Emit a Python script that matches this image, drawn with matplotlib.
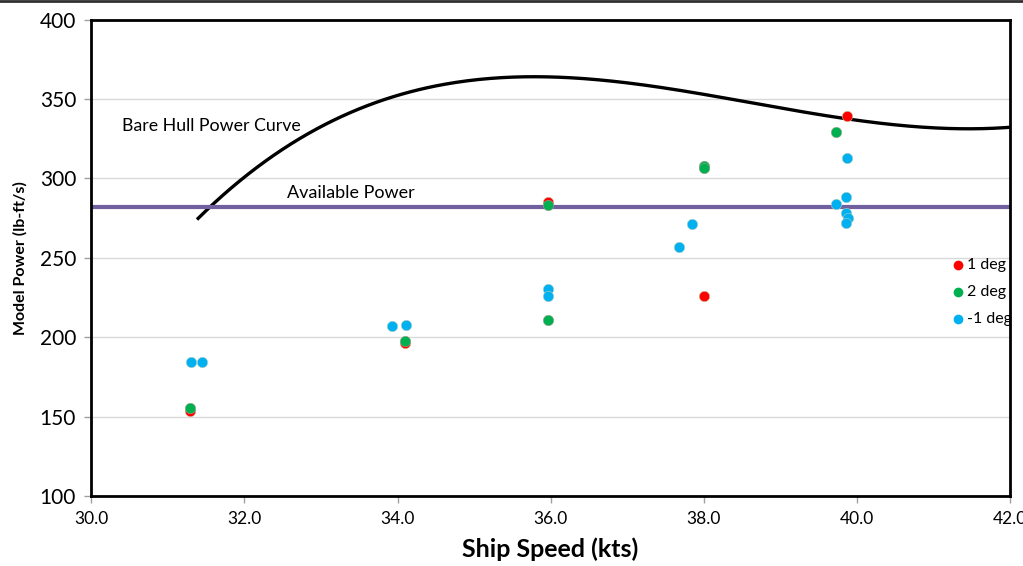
import matplotlib
matplotlib.use("Agg")
import matplotlib.pyplot as plt
from matplotlib.lines import Line2D
import numpy as np

plt.rcParams['font.family'] = ['Lato', 'DejaVu Sans']

# Bare hull power curve (read points; drawn as a cubic trendline like the original)
curve_x = [31.38, 31.59, 32.03, 32.60, 33.25, 33.90, 34.56, 35.21, 35.73, 36.03,
           36.69, 37.34, 37.99, 38.65, 39.52, 39.91, 40.57, 41.22, 41.65, 41.98]
curve_y = [273.7, 283.2, 303.2, 321.0, 338.8, 351.4, 358.8, 362.6, 364.0, 363.6,
           361.3, 357.7, 353.1, 347.3, 340.5, 337.8, 333.6, 331.1, 331.1, 332.1]

available_power = 281.8

# 1 deg
red_x = [31.29, 34.10, 35.97, 38.00, 39.87]
red_y = [153.4, 196.1, 285.1, 225.8, 339.2]
# 2 deg
green_x = [31.29, 34.10, 35.97, 35.96, 38.00, 38.01, 39.73]
green_y = [155.2, 197.4, 283.2, 210.7, 307.5, 306.5, 329.5]
# -1 deg
cyan_x = [31.30, 31.45, 33.93, 34.11, 35.97, 35.97, 37.68, 37.85, 39.87, 39.86,
          39.73, 39.86, 39.88, 39.86]
cyan_y = [184.3, 184.3, 207.0, 207.6, 230.3, 225.9, 256.8, 271.3, 312.9, 288.3,
          283.9, 278.2, 275.0, 271.9]

x_ticks = [30, 32, 34, 36, 38, 40, 42]
y_ticks = [100, 150, 200, 250, 300, 350, 400]

RED = '#FF0000'
GREEN = '#00B050'
CYAN = '#00B0F0'
PURPLE = '#7060A0'

fig = plt.figure(figsize=(10.23, 5.66), dpi=100)
ax = fig.add_axes([0.0893, 0.1237, 0.8978, 0.8417])

ax.set_xlim(30, 42)
ax.set_ylim(100, 400)

for yv in y_ticks[1:-1]:
    ax.axhline(yv, color='#D9D9D9', lw=1.0, zorder=0)

coef = np.polyfit(curve_x, curve_y, 3)
xs = np.linspace(curve_x[0], 42.5, 300)
ax.plot(xs, np.polyval(coef, xs), color='black', lw=2.4, zorder=2, solid_capstyle='butt')
ax.axhline(available_power, color=PURPLE, lw=3, zorder=2)

ms = 7.5
ax.plot(red_x, red_y, 'o', color=RED, ms=ms, mec='#C8C8A0', mew=0.4, zorder=3)
ax.plot(green_x, green_y, 'o', color=GREEN, ms=ms, mec='#A0A090', mew=0.4, zorder=4)
ax.plot(cyan_x, cyan_y, 'o', color=CYAN, ms=ms, mec='#B0D0C0', mew=0.4, zorder=5)

ax.text(30.40, 333, 'Bare Hull Power Curve', fontsize=12.8, va='center', ha='left', color='black')
ax.text(32.56, 290.7, 'Available Power', fontsize=13, va='center', ha='left', color='black')

# legend inside, clipped at plot border
leg_items = [('1 deg', RED, 0.485), ('2 deg', GREEN, 0.428), ('-1 deg', CYAN, 0.372)]
for lab, col, yy in leg_items:
    ax.plot([0.9436], [yy], 'o', color=col, ms=7, mec='none', transform=ax.transAxes,
            clip_on=False, zorder=6)
    ax.text(0.9534, yy, lab, fontsize=11.5, va='center', ha='left', transform=ax.transAxes,
            clip_on=True, zorder=6)

ax.set_xticks(x_ticks)
ax.set_xticklabels([f'{v:.1f}' for v in x_ticks], fontsize=12.5)
ax.set_yticks(y_ticks)
ax.set_yticklabels([str(v) for v in y_ticks], fontsize=15)
ax.tick_params(axis='both', direction='out', length=5, color='#A0A0A0', width=1)
ax.tick_params(axis='x', pad=6)
ax.tick_params(axis='y', pad=6)

ax.set_xlabel('Ship Speed (kts)', fontsize=18, fontweight='bold', labelpad=7)
ax.set_ylabel('Model Power (lb-ft/s)', fontsize=11.5, fontweight='bold', labelpad=9)

for sp in ax.spines.values():
    sp.set_color('black')
    sp.set_linewidth(2)

fig.add_artist(Line2D([0, 1], [0.999, 0.999], color='#303030', lw=2, transform=fig.transFigure))

fig.savefig('out.png', dpi=100)
